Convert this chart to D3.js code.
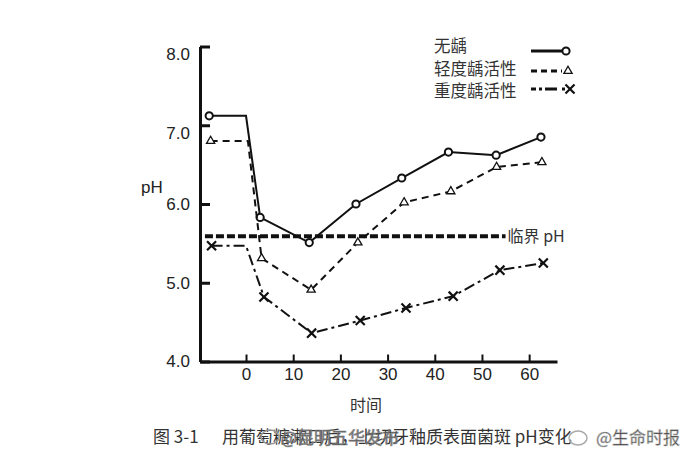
<html>
  <head>
    <meta charset="utf-8">
    <style>
      body { margin: 0; background: #fff; }
      .axis path, .axis line { stroke: #111; }
      .axis text { font: 17px "Liberation Sans", Arial, sans-serif; fill: #222; }
      .cjk { font-family: "Noto Sans CJK SC", sans-serif; fill: #333; }
    </style>
  </head>
  <body>
    <script src="https://cdn.jsdelivr.net/npm/d3@7/dist/d3.min.js"></script>
    <script>
      // time (x) and pH (y), one pair of arrays per curve
      var timeNone   = [-7.8, 0, 3, 13.4, 23.3, 33, 42.9, 53, 62.5];
      var phNone     = [7.12, 7.12, 5.83, 5.51, 6.0, 6.33, 6.66, 6.62, 6.85];
      var timeMild   = [-7.5, 0.4, 3.3, 13.8, 23.7, 33.5, 43.4, 53.1, 62.7];
      var phMild     = [6.8, 6.8, 5.31, 4.91, 5.51, 6.02, 6.16, 6.47, 6.53];
      var timeSevere = [-7.3, 0, 3.8, 13.9, 24.2, 33.9, 43.9, 53.8, 63];
      var phSevere   = [5.47, 5.47, 4.82, 4.36, 4.52, 4.68, 4.83, 5.16, 5.25];

      var criticalPH = 5.59;
      var criticalSpan = [-8.7, 55];

      var seriesNames = ["无龋", "轻度龋活性", "重度龋活性"];
      var xTicks = [0, 10, 20, 30, 40, 50, 60];
      var yTicks = [4, 5, 6, 7, 8];

      var w = 690, h = 461;
      var svg = d3.select("body").append("svg")
          .attr("width", w)
          .attr("height", h);

      var x = d3.scaleLinear().domain([-9.75, 65.9]).range([200, 557]);
      var y = d3.scaleLinear().domain([4, 8]).range([361.5, 46.5]);

      // axes
      var yAxis = svg.append("g").attr("class", "axis")
          .attr("transform", "translate(200,0)")
          .call(d3.axisLeft(y).tickValues(yTicks).tickFormat(d3.format(".1f"))
              .tickSize(-10).tickSizeOuter(0).tickPadding(10));
      yAxis.select(".domain").attr("stroke-width", 3);
      yAxis.selectAll(".tick line").attr("stroke-width", 3);
      yAxis.selectAll(".tick text").filter(function(d) { return d >= 7; }).attr("dy", "0.75em");

      var xAxis = svg.append("g").attr("class", "axis")
          .attr("transform", "translate(0,361.5)")
          .call(d3.axisBottom(x).tickValues(xTicks).tickSize(-7).tickSizeOuter(0).tickPadding(6));
      xAxis.select(".domain").attr("stroke-width", 3);
      xAxis.selectAll(".tick line").attr("stroke-width", 2);

      svg.append("text")
          .attr("x", 141).attr("y", 193)
          .style("font", "17px 'Liberation Sans', Arial, sans-serif")
          .attr("fill", "#222")
          .text("pH");

      svg.append("text").attr("class", "cjk")
          .attr("x", 366).attr("y", 411)
          .attr("text-anchor", "middle")
          .style("font-size", "16px")
          .text("时间");

      // critical pH
      svg.append("line")
          .attr("x1", x(criticalSpan[0])).attr("x2", x(criticalSpan[1]))
          .attr("y1", y(criticalPH)).attr("y2", y(criticalPH))
          .attr("stroke", "#111")
          .attr("stroke-width", 4)
          .attr("stroke-dasharray", "8,3");
      svg.append("text").attr("class", "cjk")
          .attr("x", x(criticalSpan[1]) + 2).attr("y", y(criticalPH) + 6)
          .style("font-size", "16px")
          .text("临界 pH");

      var series = [
        { t: timeNone, v: phNone, dash: null, width: 2, symbol: "circle" },
        { t: timeMild, v: phMild, dash: "7,5", width: 2, symbol: "triangle" },
        { t: timeSevere, v: phSevere, dash: "11,4,3,4", width: 2, symbol: "times" }
      ];

      var line = d3.line()
          .x(function(d) { return x(d[0]); })
          .y(function(d) { return y(d[1]); });

      function marker(g, kind) {
        if (kind == "circle") {
          g.append("circle").attr("r", 3.6)
            .attr("fill", "#fff").attr("stroke", "#111").attr("stroke-width", 2);
        } else if (kind == "triangle") {
          g.append("path").attr("d", d3.symbol(d3.symbolTriangle2, 48)())
            .attr("fill", "#fff").attr("stroke", "#111").attr("stroke-width", 1.3);
        } else {
          g.append("path").attr("d", d3.symbol(d3.symbolTimes, 55)())
            .attr("fill", "none").attr("stroke", "#111").attr("stroke-width", 2.2);
        }
      }

      series.forEach(function(s) {
        var pts = s.t.map(function(t, i) { return [t, s.v[i]]; });
        svg.append("path")
            .attr("d", line(pts))
            .attr("fill", "none")
            .attr("stroke", "#111")
            .attr("stroke-width", s.width)
            .attr("stroke-dasharray", s.dash);
        pts.forEach(function(p, i) {
          if (i == 1) return; // the corner at time 0 has no marker
          var g = svg.append("g").attr("transform", "translate(" + x(p[0]) + "," + y(p[1]) + ")");
          marker(g, s.symbol);
        });
      });

      // legend
      var legendY = [51, 71, 89];
      var legendText = [52, 75, 97];
      series.forEach(function(s, i) {
        svg.append("text").attr("class", "cjk")
            .attr("x", 434).attr("y", legendText[i])
            .style("font-size", "16.5px")
            .text(seriesNames[i]);
        svg.append("line")
            .attr("x1", 531).attr("x2", i == 2 ? 565 : 562)
            .attr("y1", legendY[i]).attr("y2", legendY[i])
            .attr("stroke", "#111")
            .attr("stroke-width", 3)
            .attr("stroke-dasharray", i == 1 ? "6,4" : (i == 2 ? "5,3,3,3,12" : null));
        var g = svg.append("g").attr("transform", "translate(" + (566 + i * 2) + "," + legendY[i] + ")");
        marker(g, s.symbol);
      });

      // caption
      svg.append("text").attr("class", "cjk")
          .attr("x", 153).attr("y", 443)
          .style("font-size", "17px")
          .attr("fill", "#333")
          .text("图 3-1");
      svg.append("text").attr("class", "cjk")
          .attr("x", 222).attr("y", 443)
          .style("font-size", "17px")
          .text("用葡萄糖漱口后，上切牙釉质表面菌斑 pH变化");

      // watermarks (they sit on top of the caption in the source image)
      svg.append("ellipse").attr("cx", 270).attr("cy", 437).attr("rx", 9).attr("ry", 7)
          .attr("fill", "none").attr("stroke", "#999").attr("stroke-width", 1.5);
      svg.append("text").attr("class", "cjk")
          .attr("x", 281).attr("y", 444)
          .style("font-size", "17px")
          .attr("fill", "#fff").attr("fill-opacity", 0.8)
          .attr("stroke", "#888").attr("stroke-width", 0.7)
          .text("@昆明五华发布");
      svg.append("ellipse").attr("cx", 578).attr("cy", 438).attr("rx", 9).attr("ry", 7)
          .attr("fill", "none").attr("stroke", "#aaa").attr("stroke-width", 1.5);
      svg.append("text").attr("class", "cjk")
          .attr("x", 596).attr("y", 444)
          .style("font-size", "17px")
          .attr("fill", "#ddd")
          .attr("stroke", "#bbb").attr("stroke-width", 0.6)
          .text("@生命时报");
    </script>
  </body>
</html>
